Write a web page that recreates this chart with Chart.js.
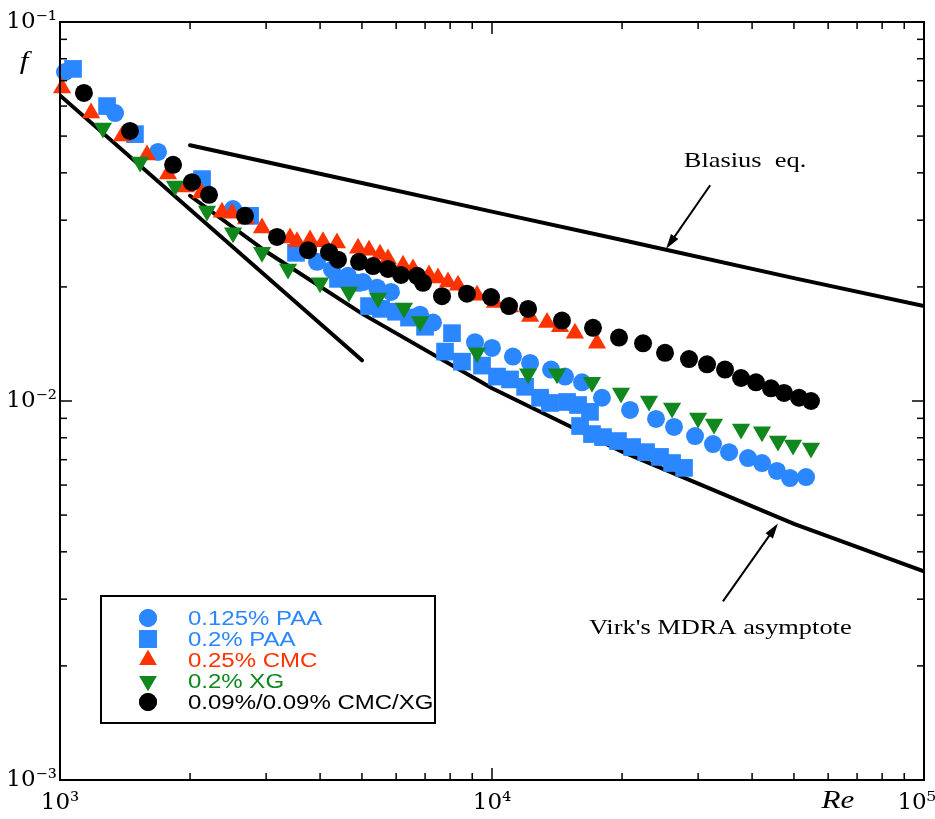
<!DOCTYPE html>
<html>
<head>
<meta charset="utf-8">
<script src="https://cdn.jsdelivr.net/npm/chart.js@4.4.1/dist/chart.umd.min.js"></script>
<style>
  html, body { margin: 0; padding: 0; background: #fff; }
  #wrap { width: 935px; height: 819px; }
</style>
</head>
<body>
<div id="wrap"><canvas id="frictionChart" width="935" height="819"></canvas></div>
<script>
// values: Re (x) and friction factor f (y)
const paa125Re = [1027, 1341, 1686, 2515, 3935, 4263, 4642, 5028, 5419, 5837, 6813, 7302, 9134, 10000, 11180, 12250, 13700, 14760, 16160, 17970, 20870, 23970, 26380, 29510, 32480, 35380, 39140, 42170, 45670, 48960, 53330];
const paa125F = [0.0738, 0.0575, 0.0454, 0.0321, 0.0233, 0.0222, 0.0214, 0.0206, 0.0199, 0.0194, 0.0169, 0.0161, 0.0143, 0.0138, 0.0131, 0.0126, 0.0121, 0.0116, 0.0112, 0.0102, 0.00947, 0.00897, 0.00854, 0.00808, 0.00770, 0.00733, 0.00707, 0.00686, 0.00654, 0.00626, 0.00630];

const paa2Re = [1072, 1285, 1491, 2132, 2754, 3518, 4401, 4767, 5192, 5535, 5995, 6425, 6998, 8080, 7785, 8522, 9482, 10270, 11010, 11930, 12920, 13620, 14920, 15820, 16860, 15990, 17040, 18070, 19570, 21100, 22730, 24490, 26110, 27830];
const paa2F = [0.0752, 0.0600, 0.0506, 0.0385, 0.0308, 0.0246, 0.0210, 0.0205, 0.0178, 0.0175, 0.0172, 0.0166, 0.0157, 0.0151, 0.0135, 0.0127, 0.0124, 0.0116, 0.0114, 0.0109, 0.0102, 0.00988, 0.00994, 0.00976, 0.00936, 0.00859, 0.00818, 0.00803, 0.00784, 0.00756, 0.00733, 0.00712, 0.00686, 0.00666];

const cmcRe = [1011, 1180, 1392, 1590, 1778, 1957, 2121, 2371, 2502, 2696, 2935, 3408, 3537, 3791, 4063, 4377, 4896, 5192, 5505, 5744, 6223, 6564, 7148, 7499, 7910, 8341, 9232, 10160, 11010, 12250, 13410, 14370, 15560, 17500];
const cmcF = [0.0670, 0.0575, 0.0500, 0.0446, 0.0397, 0.0367, 0.0354, 0.0315, 0.0313, 0.0302, 0.0286, 0.0269, 0.0263, 0.0266, 0.0263, 0.0261, 0.0253, 0.0250, 0.0244, 0.0237, 0.0228, 0.0223, 0.0215, 0.0211, 0.0206, 0.0202, 0.0190, 0.0182, 0.0177, 0.0167, 0.0161, 0.0157, 0.0151, 0.0142];

const xgRe = [1257, 1532, 1846, 2189, 2515, 2935, 3372, 3999, 4667, 5447, 6256, 6813, 9232, 12120, 14140, 17040, 19890, 23090, 26110, 29990, 32650, 37710, 42170, 45920, 49760, 54750];
const xgF = [0.0525, 0.0427, 0.0369, 0.0317, 0.0278, 0.0247, 0.0223, 0.0205, 0.0194, 0.0187, 0.0176, 0.0162, 0.0134, 0.0118, 0.0118, 0.0112, 0.0105, 0.0100, 0.00958, 0.00902, 0.00870, 0.00844, 0.00829, 0.00784, 0.00765, 0.00752];

const mixRe = [1136, 1452, 1827, 2021, 2213, 2681, 3179, 3751, 4195, 4401, 4922, 5303, 5744, 6156, 6706, 6923, 7661, 8751, 9947, 10950, 12120, 14520, 17130, 19680, 22370, 25150, 28580, 31460, 34630, 37710, 40840, 44240, 47420, 51360, 54750];
const mixF = [0.0650, 0.0516, 0.0420, 0.0378, 0.0350, 0.0308, 0.0271, 0.0250, 0.0247, 0.0236, 0.0233, 0.0227, 0.0223, 0.0215, 0.0214, 0.0205, 0.0189, 0.0192, 0.0188, 0.0178, 0.0175, 0.0163, 0.0156, 0.0147, 0.0142, 0.0134, 0.0129, 0.0125, 0.0121, 0.0115, 0.0112, 0.0108, 0.0105, 0.0102, 0.0100];

// reference curves
const laminarRe = [1000, 5000];
const laminarF = [0.064, 0.0128];
const blasiusRe = [2000, 5000, 10000, 20000, 50000, 100000];
const blasiusF = [0.0473, 0.0376, 0.0316, 0.0266, 0.0211, 0.0178];
const virkRe = [2000, 3000, 5000, 10000, 20000, 50000, 100000];
const virkF = [0.0348, 0.0248, 0.0170, 0.0108, 0.00735, 0.00474, 0.00355];

// axis ticks (last x label padded so it sits left of the edge like the original)
const xTicks = [1000, 2000, 3000, 4000, 5000, 6000, 7000, 8000, 9000, 10000, 20000, 30000, 40000, 50000, 60000, 70000, 80000, 90000, 100000];
const yTicks = [0.001, 0.002, 0.003, 0.004, 0.005, 0.006, 0.007, 0.008, 0.009, 0.01, 0.02, 0.03, 0.04, 0.05, 0.06, 0.07, 0.08, 0.09, 0.1];
const xLabels = { 1000: '10³', 10000: '10⁴', 100000: '10⁵  ' };
const yLabels = { 0.001: '10⁻³', 0.01: '10⁻²', 0.1: '10⁻¹' };

const BLUE = '#2a87ff', RED = '#ff3300', GREEN = '#10881e', BLACK = '#000';

const pts = (xs, ys) => xs.map((x, i) => ({ x: x, y: ys[i] }));

function marker(label, xs, ys, color, style, radius, rotation, order) {
  return {
    label, data: pts(xs, ys), order,
    pointStyle: style, pointRadius: radius, pointRotation: rotation || 0,
    backgroundColor: color, borderColor: color, borderWidth: 0,
    showLine: false, clip: 12
  };
}
function curve(label, xs, ys) {
  return {
    label, data: pts(xs, ys), order: 6,
    showLine: true, pointRadius: 0, borderColor: BLACK, borderWidth: 4,
    borderCapStyle: 'round', fill: false
  };
}

// frame, inward ticks, legend, labels and arrows
const extras = {
  id: 'extras',
  afterDraw(chart) {
    const { ctx, chartArea: a, scales: { x, y } } = chart;
    const seg = (x1, y1, x2, y2) => { ctx.beginPath(); ctx.moveTo(x1, y1); ctx.lineTo(x2, y2); ctx.stroke(); };
    const stretched = (text, cx, cy, font, color, align) => {
      ctx.save();
      ctx.font = font; ctx.fillStyle = color; ctx.textAlign = align || 'center'; ctx.textBaseline = 'middle';
      ctx.translate(cx, cy); ctx.scale(1.2, 1);
      ctx.fillText(text, 0, 0);
      ctx.restore();
    };
    ctx.save();
    ctx.strokeStyle = BLACK;
    ctx.lineWidth = 2;
    ctx.strokeRect(a.left, a.top, a.right - a.left, a.bottom - a.top);

    ctx.lineWidth = 1.5;
    x.ticks.forEach(t => {
      const px = x.getPixelForValue(t.value);
      const len = t.major ? 12 : 7;
      seg(px, a.bottom, px, a.bottom - len);
      seg(px, a.top, px, a.top + len);
    });
    y.ticks.forEach(t => {
      const py = y.getPixelForValue(t.value);
      const len = t.major ? 12 : 7;
      seg(a.left, py, a.left + len, py);
      seg(a.right, py, a.right - len, py);
    });

    // legend box
    const bx = 101, by = 596, bw = 334, bh = 127;
    ctx.fillStyle = '#fff';
    ctx.fillRect(bx, by, bw, bh);
    ctx.lineWidth = 2;
    ctx.strokeRect(bx, by, bw, bh);
    const items = [0, 1, 2, 3, 4].map(i => chart.data.datasets.find(d => d.legendIndex === i));
    items.forEach((d, i) => {
      const cy = by + 22 + i * 21;
      ctx.fillStyle = d.backgroundColor;
      Chart.helpers.drawPoint(ctx, {
        pointStyle: d.pointStyle, radius: d.legendRadius, rotation: d.pointRotation, borderWidth: 0
      }, bx + 47, cy);
      ctx.fill();
      stretched(d.label, bx + 87, cy + 1, '20px "Liberation Sans", Arial, sans-serif', d.backgroundColor, 'left');
    });

    // arrows
    const arrow = (fromRe, fromF, toRe, toF) => {
      const x1 = x.getPixelForValue(fromRe), y1 = y.getPixelForValue(fromF);
      const x2 = x.getPixelForValue(toRe), y2 = y.getPixelForValue(toF);
      const ang = Math.atan2(y2 - y1, x2 - x1);
      ctx.strokeStyle = BLACK; ctx.fillStyle = BLACK; ctx.lineWidth = 2;
      seg(x1, y1, x2 - 10 * Math.cos(ang), y2 - 10 * Math.sin(ang));
      ctx.beginPath();
      ctx.moveTo(x2, y2);
      ctx.lineTo(x2 - 15 * Math.cos(ang) + 4.5 * Math.sin(ang), y2 - 15 * Math.sin(ang) - 4.5 * Math.cos(ang));
      ctx.lineTo(x2 - 15 * Math.cos(ang) - 4.5 * Math.sin(ang), y2 - 15 * Math.sin(ang) + 4.5 * Math.cos(ang));
      ctx.closePath();
      ctx.fill();
    };
    arrow(31990, 0.0371, 25300, 0.0252);
    arrow(34240, 0.00296, 45900, 0.00475);
    const serif = '22px "Liberation Serif", "Times New Roman", serif';
    stretched('Blasius  eq.', x.getPixelForValue(38520), y.getPixelForValue(0.0428), serif, BLACK);
    stretched("Virk's MDRA asymptote", x.getPixelForValue(33760), y.getPixelForValue(0.00252), serif, BLACK);

    // axis titles
    const ital = 'italic 26px "Liberation Serif", "Times New Roman", serif';
    stretched('f', 24, 62, ital, BLACK);
    stretched('Re', 838, 801, ital, BLACK);
    ctx.restore();
  }
};

const datasets = [
  Object.assign(marker('0.09%/0.09% CMC/XG', mixRe, mixF, BLACK, 'circle', 9, 0, 0), { legendIndex: 4, legendRadius: 9 }),
  Object.assign(marker('0.2% XG', xgRe, xgF, GREEN, 'triangle', 10.5, 180, 1), { legendIndex: 3, legendRadius: 10 }),
  Object.assign(marker('0.25% CMC', cmcRe, cmcF, RED, 'triangle', 10.5, 0, 2), { legendIndex: 2, legendRadius: 10 }),
  Object.assign(marker('0.2% PAA', paa2Re, paa2F, BLUE, 'rect', 12.5, 0, 3), { legendIndex: 1, legendRadius: 12.5 }),
  Object.assign(marker('0.125% PAA', paa125Re, paa125F, BLUE, 'circle', 9, 0, 4), { legendIndex: 0, legendRadius: 9 }),
  curve('Laminar', laminarRe, laminarF),
  curve('Blasius eq.', blasiusRe, blasiusF),
  curve("Virk's MDRA asymptote", virkRe, virkF)
];

const tickFont = { family: '"DejaVu Serif", "Liberation Serif", serif', size: 23 };

new Chart(document.getElementById('frictionChart').getContext('2d'), {
  type: 'scatter',
  data: { datasets },
  options: {
    responsive: false,
    devicePixelRatio: 1,
    animation: false,
    events: [],
    layout: { padding: { top: 22, right: 11, left: 0, bottom: 0 }, autoPadding: false },
    plugins: { legend: { display: false }, tooltip: { enabled: false } },
    scales: {
      x: {
        type: 'logarithmic', position: 'bottom', min: 1000, max: 100000,
        grid: { display: false, drawTicks: false },
        border: { display: false },
        afterBuildTicks: s => { s.ticks = xTicks.map(v => ({ value: v, major: xLabels[v] !== undefined })); },
        afterFit: s => { s.height = 39; s.paddingLeft = 0; s.paddingRight = 0; },
        ticks: {
          autoSkip: false, maxRotation: 0, padding: 9, color: BLACK, font: tickFont,
          callback: v => xLabels[v] || ''
        }
      },
      y: {
        type: 'logarithmic', position: 'left', min: 0.001, max: 0.1,
        grid: { display: false, drawTicks: false },
        border: { display: false },
        afterBuildTicks: s => { s.ticks = yTicks.map(v => ({ value: v, major: yLabels[v] !== undefined })); },
        afterFit: s => { s.width = 60; s.paddingTop = 0; s.paddingBottom = 0; },
        ticks: {
          autoSkip: false, padding: 3, color: BLACK, font: tickFont,
          callback: v => yLabels[v] || ''
        }
      }
    }
  },
  plugins: [extras]
});
</script>
</body>
</html>
